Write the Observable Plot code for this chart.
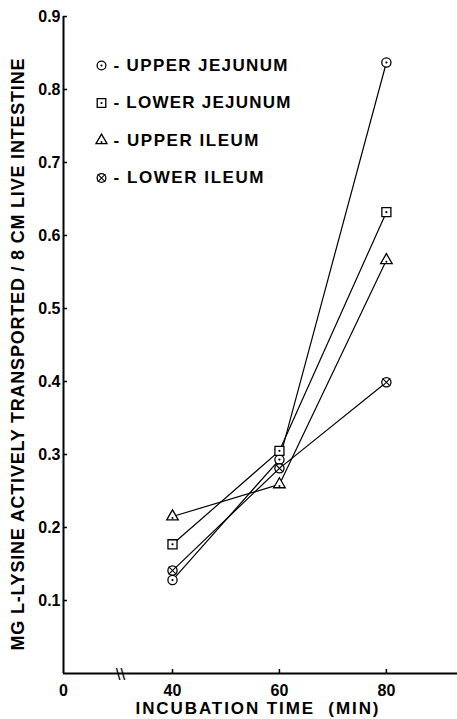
<!DOCTYPE html>
<html>
<head>
<meta charset="utf-8">
<script src="https://cdn.jsdelivr.net/npm/d3@7"></script>
<script src="https://cdn.jsdelivr.net/npm/@observablehq/plot@0.6"></script>
<style>
  html, body { margin: 0; padding: 0; background: #fff; }
  #chart { width: 457px; height: 719px; }
</style>
</head>
<body>
<div id="chart"></div>
<script>
// ---- data ----
const times = [40, 60, 80];
const upperJejunum = [0.128, 0.293, 0.837];
const lowerJejunum = [0.177, 0.305, 0.632];
const upperIleum   = [0.215, 0.259, 0.566];
const lowerIleum   = [0.141, 0.281, 0.399];
const seriesNames = ["UPPER JEJUNUM", "LOWER JEJUNUM", "UPPER ILEUM", "LOWER ILEUM"];
const xTicks = [0, 40, 60, 80];
const yTicks = [0.1, 0.2, 0.3, 0.4, 0.5, 0.6, 0.7, 0.8, 0.9];
const xLabel = "INCUBATION TIME  (MIN)";
const yLabel = "MG L-LYSINE ACTIVELY TRANSPORTED / 8 CM LIVE INTESTINE";

const seriesValues = [upperJejunum, lowerJejunum, upperIleum, lowerIleum];
const rows = [];
seriesNames.forEach((name, i) => {
  times.forEach((t, j) => rows.push({series: name, time: t, value: seriesValues[i][j]}));
});

// marker styles per series
const markerSpec = {
  "UPPER JEJUNUM": {symbol: "circle", r: 4.6, inner: "circle", innerR: 1.1, innerDy: 0},
  "LOWER JEJUNUM": {symbol: "square", r: 5.1, inner: "circle", innerR: 1.1, innerDy: 0},
  "UPPER ILEUM":   {symbol: "triangle", r: 4.3, inner: "circle", innerR: 1.0, innerDy: 1.5},
  "LOWER ILEUM":   {symbol: "circle", r: 4.6, inner: "times", innerR: 3.6, innerDy: 0}
};

const font = "'Liberation Sans', Arial, sans-serif";
const legendDy = [49, 86.5, 124, 161.5];

const marks = [
  Plot.ruleX([0], {stroke: "black", strokeWidth: 2}),
  Plot.ruleY([0], {stroke: "black", strokeWidth: 2}),
  // inward tick marks
  Plot.tickY(yTicks, {y: d => d, insetRight: 390, stroke: "black", strokeWidth: 1.5}),
  Plot.tickX(xTicks.slice(1), {x: d => d, insetTop: 653, stroke: "black", strokeWidth: 1.5}),
  Plot.axisY({ticks: yTicks, tickFormat: d3.format(".1f"), tickSize: 0, tickPadding: 3,
              fontSize: 16, fontWeight: "bold", label: null}),
  Plot.axisX({ticks: xTicks, tickFormat: d => String(d), tickSize: 0, tickPadding: 11,
              fontSize: 16, fontWeight: "bold", label: null}),
  // axis break
  Plot.text(["\\\\"], {frameAnchor: "bottom-left", dx: 57, dy: 1, fontSize: 17, fontWeight: "normal",
                      lineAnchor: "middle", textAnchor: "middle"}),
  Plot.line(rows, {x: "time", y: "value", z: "series", stroke: "black", strokeWidth: 1.2})
];

seriesNames.forEach((name, i) => {
  const s = markerSpec[name];
  const data = rows.filter(d => d.series === name);
  marks.push(Plot.dot(data, {x: "time", y: "value", symbol: s.symbol, r: s.r, stroke: "black", fill: "white", strokeWidth: 1.3}));
  if (s.inner === "times") {
    marks.push(Plot.dot(data, {x: "time", y: "value", symbol: "times", r: s.innerR, stroke: "black", fill: "none", strokeWidth: 1.1}));
  } else {
    marks.push(Plot.dot(data, {x: "time", y: "value", dy: s.innerDy, symbol: s.inner, r: s.innerR, fill: "black", stroke: "none"}));
  }
  // legend
  marks.push(Plot.dot([name], {frameAnchor: "top-left", dx: 38, dy: legendDy[i], symbol: s.symbol, r: s.r * 0.95,
                               stroke: "black", fill: "white", strokeWidth: 1.3}));
  if (s.inner === "times") {
    marks.push(Plot.dot([name], {frameAnchor: "top-left", dx: 38, dy: legendDy[i], symbol: "times", r: s.innerR,
                                 stroke: "black", fill: "none", strokeWidth: 1.1}));
  } else {
    marks.push(Plot.dot([name], {frameAnchor: "top-left", dx: 38, dy: legendDy[i] + s.innerDy, symbol: s.inner, r: s.innerR,
                                 fill: "black", stroke: "none"}));
  }
  marks.push(Plot.text([name], {frameAnchor: "top-left", dx: 50, dy: legendDy[i], text: d => "- " + d,
                                textAnchor: "start", lineAnchor: "middle", fontSize: 17, fontWeight: "bold"}));
});

marks.push(Plot.text([yLabel], {frameAnchor: "left", dx: -45.5, dy: 9.5, rotate: -90, textAnchor: "middle",
                                lineAnchor: "middle", fontSize: 18, fontWeight: "bold"}));
marks.push(Plot.text([xLabel], {frameAnchor: "bottom", dx: -3.5, dy: 35.5, textAnchor: "middle",
                                lineAnchor: "middle", fontSize: 17, fontWeight: "bold"}));

const chart = Plot.plot({
  width: 457,
  height: 719,
  marginTop: 16,
  marginBottom: 46,
  marginLeft: 63,
  marginRight: 0,
  style: {fontFamily: font, color: "black", background: "white"},
  x: {type: "linear", domain: [0, 40, 93.3], range: [63, 172, 457]},
  y: {domain: [0, 0.9]},
  marks
});

// stretch label texts to the lengths seen in the reference
const lengths = {
  [yLabel]: 592,
  [xLabel]: 243,
  "- UPPER JEJUNUM": 174,
  "- LOWER JEJUNUM": 177,
  "- UPPER ILEUM": 145,
  "- LOWER ILEUM": 150
};
d3.select(chart).selectAll("text").each(function() {
  const t = this.textContent;
  if (lengths[t]) {
    this.setAttribute("textLength", lengths[t]);
    this.setAttribute("lengthAdjust", "spacing");
  }
});

document.getElementById("chart").appendChild(chart);
</script>
</body>
</html>
